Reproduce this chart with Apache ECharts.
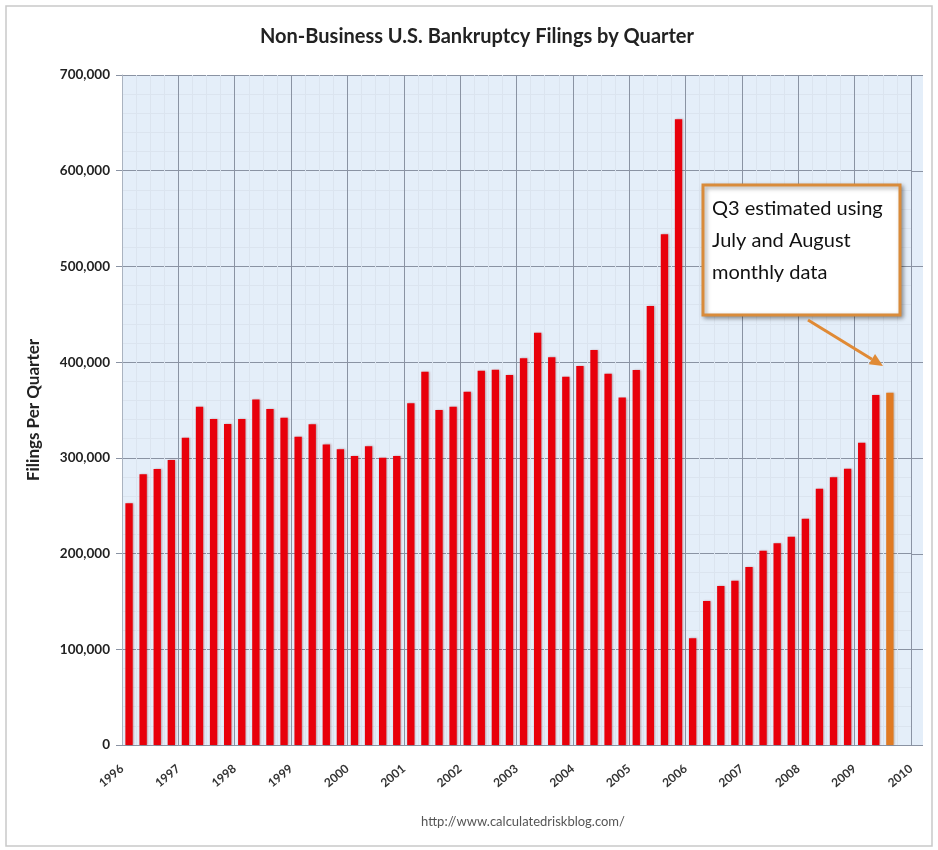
<!DOCTYPE html>
<html><head><meta charset="utf-8">
<script src="https://cdn.jsdelivr.net/npm/echarts@6/dist/echarts.min.js"></script>
<style>html,body{margin:0;padding:0;background:#fff}#c{width:938px;height:850px}</style>
</head><body><div id="c"></div>
<script>
// ---- data ----
const years = [1996,1997,1998,1999,2000,2001,2002,2003,2004,2005,2006,2007,2008,2009];
const quarterNames = ['Q1','Q2','Q3','Q4'];
const yearTickLabels = ['1996','1997','1998','1999','2000','2001','2002','2003','2004','2005','2006','2007','2008','2009','2010'];
// Non-business filings per quarter (1996 Q1 ... 2009 Q4)
const filings = [
  252500, 282800, 288400, 297800,
  321000, 353500, 340600, 335400,
  340600, 361000, 351000, 342000,
  322000, 335000, 314000, 309000,
  302000, 312000, 300000, 302000,
  357000, 390000, 350000, 353500,
  369000, 391000, 392000, 386600,
  404000, 430800, 405000, 384800,
  396000, 412700, 388000, 363000,
  391800, 458700, 533600, 653700,
  111500, 150500, 166000, 171700,
  186000, 203000, 210700, 217700,
  236500, 267800, 279700, 288700,
  315900, 365700, null, null
];
const estimatedCategory = '2009 Q3';
const estimatedValue = 368000;
const noteLines = ['Q3 estimated using', 'July and August', 'monthly data'];

const categories = [];
years.forEach(y => quarterNames.forEach(q => categories.push(y + ' ' + q)));
const estimated = categories.map(c => c === estimatedCategory ? estimatedValue : null);

// ---- chart ----
const chart = echarts.init(document.getElementById('c'), null, {renderer: 'canvas'});
const FONT = 'Lato';
const gridColor = '#8a93a3';
const minorColor = '#dbe4ef';
const Y_MAX = 700000, Y_STEP = 100000;

function arrow(x1, y1, x2, y2, color) {
  const dx = x2 - x1, dy = y2 - y1, len = Math.hypot(dx, dy);
  const ux = dx / len, uy = dy / len, hl = 13, hw = 6;
  const bx = x2 - ux * hl, by = y2 - uy * hl;
  return [
    {type: 'line', shape: {x1: x1, y1: y1, x2: bx, y2: by}, style: {stroke: color, lineWidth: 3}, z: 10},
    {type: 'polygon', shape: {points: [[x2, y2], [bx - uy * hw, by + ux * hw], [bx + uy * hw, by - ux * hw]]}, style: {fill: color}, z: 10}
  ];
}

const option = {
  animation: false,
  backgroundColor: '#fff',
  textStyle: {fontFamily: FONT},
  title: {
    text: 'Non-Business U.S. Bankruptcy Filings by Quarter',
    left: 477, top: 27, textAlign: 'center', padding: 0,
    textStyle: {fontSize: 20, fontWeight: 'bold', color: '#222', fontFamily: FONT}
  },
  grid: {left: 122, right: 27, top: 75, bottom: 105, show: true, backgroundColor: '#e4eef9', borderWidth: 0},
  xAxis: [
    {type: 'category', data: categories, position: 'top', show: false, boundaryGap: true},
    {
      type: 'value', min: 1996, max: 2010, interval: 1, position: 'bottom',
      axisLine: {show: true, lineStyle: {color: gridColor}},
      axisTick: {show: false},
      splitLine: {show: true, lineStyle: {color: gridColor, width: 1}},
      minorTick: {show: false, splitNumber: 4},
      minorSplitLine: {show: true, lineStyle: {color: minorColor}},
      axisLabel: {
        rotate: 40, margin: 22, fontSize: 12, fontWeight: 'bold', color: '#333', fontFamily: FONT,
        formatter: v => yearTickLabels[Math.round(v - 1996)] || ''
      }
    }
  ],
  yAxis: {
    type: 'value', min: 0, max: Y_MAX, interval: Y_STEP,
    name: 'Filings Per Quarter', nameLocation: 'middle', nameGap: 80,
    nameTextStyle: {fontSize: 17, fontWeight: 'bold', color: '#222', fontFamily: FONT},
    axisLine: {show: true, lineStyle: {color: '#aab3c0'}},
    axisTick: {show: true, length: 6, lineStyle: {color: gridColor}},
    axisLabel: {margin: 12, fontSize: 13.5, fontWeight: 'bold', color: '#222', fontFamily: FONT,
      formatter: v => v.toLocaleString('en-US')},
    splitLine: {lineStyle: {color: gridColor}},
    minorTick: {show: false, splitNumber: 5},
    minorSplitLine: {show: true, lineStyle: {color: minorColor}}
  },
  series: [
    {type: 'bar', name: 'Filings', xAxisIndex: 0, data: filings, barWidth: '52%', barGap: '-100%',
      itemStyle: {color: '#e8000b', shadowColor: 'rgba(120,0,0,0.35)', shadowBlur: 2, shadowOffsetX: 1}},
    {type: 'bar', name: 'Estimated', xAxisIndex: 0, data: estimated, barWidth: '52%', barGap: '-100%',
      itemStyle: {color: '#e07a22', shadowColor: 'rgba(120,60,0,0.35)', shadowBlur: 2, shadowOffsetX: 1}}
  ],
  graphic: [
    {type: 'rect', shape: {x: 6, y: 6, width: 926, height: 840}, style: {fill: 'none', stroke: '#c9c9c9', lineWidth: 1.5}, silent: true},
    {type: 'text', x: 523, y: 815, style: {text: 'http://www.calculatedriskblog.com/', fontSize: 13, fill: '#555', fontFamily: FONT, align: 'center'}},
    {type: 'rect', shape: {x: 703, y: 185, width: 197, height: 130},
      style: {fill: '#fff', stroke: '#d98b3a', lineWidth: 3, shadowBlur: 4, shadowOffsetX: 2, shadowOffsetY: 2, shadowColor: 'rgba(0,0,0,0.35)'}, z: 9},
    {type: 'text', x: 712, y: 193, z: 11,
      style: {text: noteLines.join('\n'), fontSize: 20, lineHeight: 32, fill: '#111', fontFamily: FONT, verticalAlign: 'top'}}
  ].concat(arrow(808, 320, 883, 366, '#e08a35'))
};
chart.setOption(option);

// extend plot background and horizontal gridlines a little past the 2010 line (as in the original)
const xEnd = chart.convertToPixel({xAxisIndex: 1}, 2010);
const yTop = chart.convertToPixel({yAxisIndex: 0}, Y_MAX);
const yBot = chart.convertToPixel({yAxisIndex: 0}, 0);
const ext = [{type: 'rect', shape: {x: xEnd, y: yTop, width: 12, height: yBot - yTop}, style: {fill: '#e4eef9'}, z: -1, silent: true}];
for (let v = 0; v <= Y_MAX; v += Y_STEP) {
  const py = Math.round(chart.convertToPixel({yAxisIndex: 0}, v)) + 0.5;
  ext.push({type: 'line', shape: {x1: xEnd, y1: py, x2: xEnd + 12, y2: py}, style: {stroke: gridColor, lineWidth: 1}, z: -1, silent: true});
}
chart.setOption({graphic: option.graphic.concat(ext)});
</script></body></html>
